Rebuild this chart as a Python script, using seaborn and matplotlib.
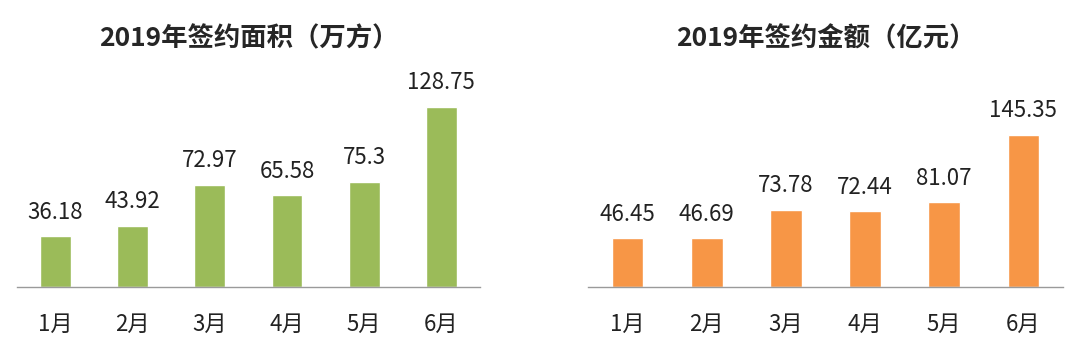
import matplotlib
matplotlib.use("Agg")
import matplotlib.pyplot as plt
import seaborn as sns
import pandas as pd

# data
months = ["1月", "2月", "3月", "4月", "5月", "6月"]
area_values = [36.18, 43.92, 72.97, 65.58, 75.3, 128.75]      # 万方
amount_values = [46.45, 46.69, 73.78, 72.44, 81.07, 145.35]   # 亿元
area_title = "2019年签约面积（万方）"
amount_title = "2019年签约金额（亿元）"

sns.set_style("white")
plt.rcParams['font.family'] = ['Noto Sans CJK SC', 'DejaVu Sans']

fig = plt.figure(figsize=(10.8, 3.52), dpi=100)
ax_left = fig.add_axes([0.0157, 0.1847, 0.4287, 0.645])
ax_right = fig.add_axes([0.5444, 0.1847, 0.4398, 0.645])


def draw_panel(ax, values, title, color, y_top):
    df = pd.DataFrame({"month": months, "value": values})
    sns.barplot(data=df, x="month", y="value", color=color, width=0.4,
                saturation=1, ax=ax)
    ax.set_ylim(0, y_top)
    ax.set_xlim(-0.5, len(months) - 0.5)
    for i, v in enumerate(values):
        ax.annotate(f"{v:g}", (i, v), xytext=(0, 9), textcoords="offset points",
                    ha="center", va="bottom", fontsize=16, color="#222222")
    for side in ["top", "right", "left"]:
        ax.spines[side].set_visible(False)
    ax.spines["bottom"].set_color("#9a9a9a")
    ax.spines["bottom"].set_linewidth(1.0)
    ax.set_yticks([])
    ax.set_xlabel("")
    ax.set_ylabel("")
    ax.tick_params(axis="x", length=0, pad=19, labelsize=16, labelcolor="#222222")
    ax.set_title(title, fontsize=19, fontweight="bold", pad=0, y=1.06)


draw_panel(ax_left, area_values, area_title, "#9BBB59", 162.4)
draw_panel(ax_right, amount_values, amount_title, "#F79646", 217)

fig.savefig("out.png", dpi=100)
